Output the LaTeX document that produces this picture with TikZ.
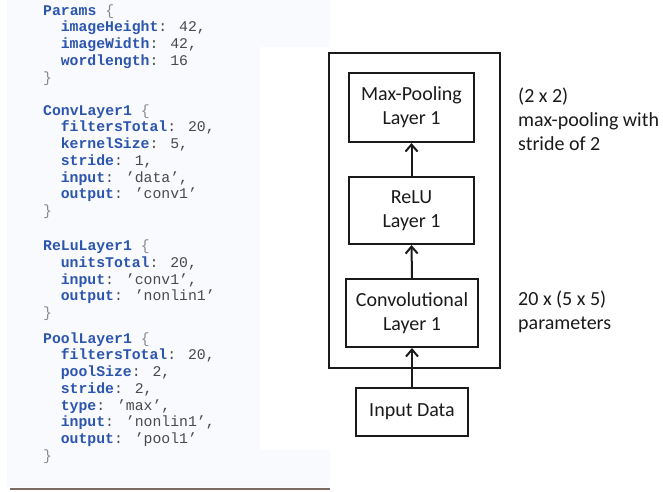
\documentclass[tikz,border=0pt]{standalone}
\usepackage{fontspec}
\setmainfont{Carlito}
\newfontfamily\codefont{Liberation Mono}
\usetikzlibrary{arrows.meta}

\definecolor{codekey}{HTML}{2C55AE}
\definecolor{codeval}{HTML}{4A4A4A}
\definecolor{codebrace}{HTML}{8A8A8A}
\definecolor{panelbg}{HTML}{F9FAFD}
\definecolor{rulecol}{HTML}{7B6B60}
\definecolor{ink}{HTML}{1A1A1A}

\newcommand\kw[1]{\textbf{\color{codekey}#1}}
\newcommand\br[1]{{\color{codebrace}#1}}
\newcommand\cl[3]{\node[codetext] (#1) at (#2) {#3};}

\begin{document}
\begin{tikzpicture}[x=1pt,y=-1pt,
  codetext/.style={anchor=base west, inner sep=0pt, font=\codefont\fontsize{14.8}{16.75}\selectfont, text=codeval},
  layerbox/.style={draw=ink, line width=2pt, inner sep=0pt, align=center, text=ink,
    font=\fontsize{20}{24}\selectfont},
  sidetext/.style={anchor=base west, inner sep=0pt, text=ink, font=\fontsize{20}{24}\selectfont},
  flow/.style={draw=ink, line width=2pt, -{Straight Barb[length=7pt,width=12pt,line width=2pt]}}]

\useasboundingbox (0,0) rectangle (663,491);

% code panel background and rule below it
\fill[panelbg] (7,0) -- (330,0) -- (330,47) -- (260,47) -- (260,450) -- (330,450)
  -- (330,487) -- (7,487) -- cycle;
\draw[rulecol, line width=2pt] (10,489) -- (330,489);

% configuration listing
\def\ind{60.6}
\cl{p0}{43,15}{\kw{Params} \br{\{}}
\cl{p1}{\ind,31.75}{\kw{imageHeight}: 42,}
\cl{p2}{\ind,48.5}{\kw{imageWidth}: 42,}
\cl{p3}{\ind,65.25}{\kw{wordlength}: 16}
\cl{p4}{43,82}{\br{\}}}

\cl{c0}{43,115}{\kw{ConvLayer1} \br{\{}}
\cl{c1}{\ind,131.75}{\kw{filtersTotal}: 20,}
\cl{c2}{\ind,148.5}{\kw{kernelSize}: 5,}
\cl{c3}{\ind,165.25}{\kw{stride}: 1,}
\cl{c4}{\ind,182}{\kw{input}: ’data’,}
\cl{c5}{\ind,198.75}{\kw{output}: ’conv1’}
\cl{c6}{43,215.5}{\br{\}}}

\cl{r0}{43,250.5}{\kw{ReLuLayer1} \br{\{}}
\cl{r1}{\ind,267.25}{\kw{unitsTotal}: 20,}
\cl{r2}{\ind,284}{\kw{input}: ’conv1’,}
\cl{r3}{\ind,300.75}{\kw{output}: ’nonlin1’}
\cl{r4}{43,317.5}{\br{\}}}

\cl{q0}{43,343}{\kw{PoolLayer1} \br{\{}}
\cl{q1}{\ind,359.75}{\kw{filtersTotal}: 20,}
\cl{q2}{\ind,376.5}{\kw{poolSize}: 2,}
\cl{q3}{\ind,393.25}{\kw{stride}: 2,}
\cl{q4}{\ind,410}{\kw{type}: ’max’,}
\cl{q5}{\ind,426.75}{\kw{input}: ’nonlin1’,}
\cl{q6}{\ind,443.5}{\kw{output}: ’pool1’}
\cl{q7}{43,460.25}{\br{\}}}

% network diagram
\node[draw=ink, line width=2pt, minimum width=171pt, minimum height=315pt, inner sep=0pt]
  (frame) at (414.5,210.5) {};
\node[layerbox, minimum width=125pt, minimum height=69pt] (pool) at (411.5,107.5) {Max-Pooling\\Layer 1};
\node[layerbox, minimum width=125pt, minimum height=67pt] (relu) at (411.5,210.5) {ReLU\\Layer 1};
\node[layerbox, minimum width=132pt, minimum height=68pt] (conv) at (412,313) {Convolutional\\Layer 1};
\node[layerbox, minimum width=112pt, minimum height=48pt] (data) at (412,412) {Input Data};

\draw[flow] (data.north) -- (conv.south);
\draw[flow] (conv.north) -- (relu.south);
\draw[flow] (relu.north) -- (pool.south);

% annotations
\node[sidetext] (pa) at (518,102.7) {(2 x 2)};
\node[sidetext] (pb) at (518,126.7) {max-pooling with};
\node[sidetext] (pc) at (518,150.7) {stride of 2};
\node[sidetext] (ca) at (518,305.7) {20 x (5 x 5)};
\node[sidetext] (cb) at (518,329.7) {parameters};
\end{tikzpicture}
\end{document}
